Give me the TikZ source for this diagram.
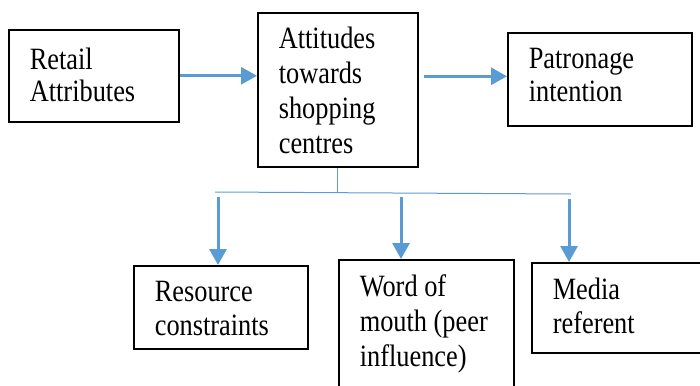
\documentclass[tikz,border=0pt]{standalone}
\usepackage{fontspec}
\setmainfont{Liberation Serif}[FakeStretch=0.85]
\usetikzlibrary{arrows.meta}
\definecolor{linkblue}{HTML}{5B9BD5}
\begin{document}
\begin{tikzpicture}[x=1pt,y=-1pt,
    box/.style={draw,line width=1.6pt,anchor=north west,inner xsep=21pt,inner ysep=0pt,align=flush left,text height=0pt},
    arr/.style={linkblue,line width=3pt,-{Triangle[length=16pt,width=17pt]}},
    link/.style={linkblue,line width=1pt}]
    \useasboundingbox (0,0) rectangle (700,385);
    \node[box,text width=128pt,minimum height=92pt,text depth=13pt,font=\fontsize{31}{32}\selectfont] (ret) at (8,29) {Retail\\Attributes};
    \node[box,text width=118pt,minimum height=154pt,text depth=82pt,font=\fontsize{31}{35}\selectfont] (att) at (257,12) {Attitudes\\towards\\shopping\\centres};
    \node[box,text width=142pt,minimum height=93pt,text depth=21pt,font=\fontsize{31}{33}\selectfont] (pat) at (507,32) {Patronage\\intention};
    \node[box,text width=132pt,minimum height=83pt,text depth=11pt,font=\fontsize{31}{34}\selectfont] (res) at (133,265) {Resource\\constraints};
    \node[box,text width=133pt,minimum height=140pt,text depth=66pt,font=\fontsize{31}{35}\selectfont] (wom) at (338,259) {Word of\\mouth (peer\\influence)};
    \node[box,text width=132pt,minimum height=90pt,text depth=16pt,font=\fontsize{31}{34}\selectfont] (med) at (531,262) {Media\\referent};
    \draw[arr] (ret.east) -- (ret.east -| att.west);
    \draw[arr] ([xshift=5pt,yshift=3pt]att.east |- pat.west) -- ([yshift=3pt]pat.west);
    % branch under the attitudes box
    \coordinate (barl) at (215,192);
    \coordinate (barr) at (571,194);
    \draw[link] (att.south) -- (att.south |- barl);
    \draw[link] (barl) -- (barr);
    \coordinate (d1) at (218,197);
    \coordinate (d2) at (401,197);
    \coordinate (d3) at (569,199);
    \draw[arr] (d1) -- (d1 |- res.north);
    \draw[arr] (d2) -- (d2 |- wom.north);
    \draw[arr] (d3) -- (d3 |- med.north);
\end{tikzpicture}
\end{document}
